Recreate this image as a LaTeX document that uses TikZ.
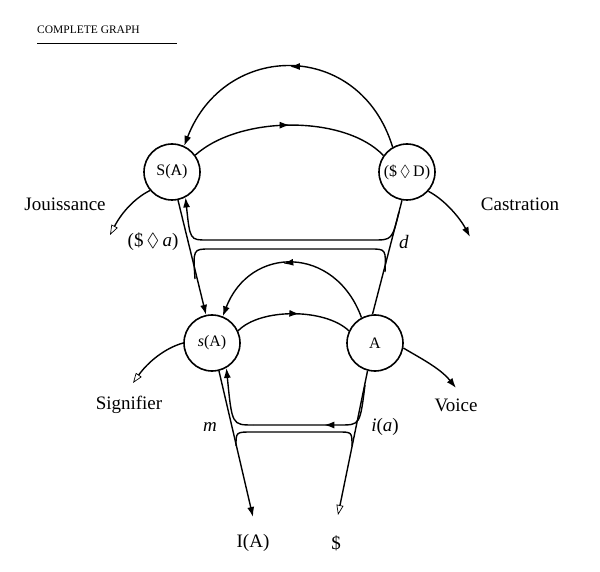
\documentclass[tikz,border=0pt]{standalone}
\usepackage{amssymb}
\usepackage{fontspec}
\setmainfont{Liberation Serif}
\usetikzlibrary{arrows.meta,decorations.markings}
\begin{document}
\begin{tikzpicture}[x=1pt,y=-1pt,
  nd/.style={circle,draw,line width=1.6pt,minimum size=56pt,inner sep=0pt,font=\fontsize{16}{18}\selectfont},
  ln/.style={line width=1.4pt},
  ar/.style={-{Latex[length=10pt,width=7pt]}},
  op/.style={{Triangle[open,length=10pt,width=7pt,line width=0.7pt]}-},
  mid/.style={postaction={decorate},decoration={markings,mark=at position #1 with {\arrow{Latex[length=10pt,width=7pt]}}}},
  lb/.style={font=\fontsize{19}{21}\selectfont}]
\useasboundingbox (0,0) rectangle (600,572);
\node[font=\fontsize{11.5}{13}\selectfont,anchor=west,inner sep=0pt] (title) at (37,30) {COMPLETE GRAPH};
\draw[line width=0.7pt] (37,43) -- (177,43);
\node[nd] (SA) at (172,172) {S(\rlap{\kern1.5pt/}A)};
\node[nd] (SD) at (407,172) {(\$\,$\Diamond$\,D)};
\node[nd] (sA) at (212,343) {\textit{s}(A)};
\node[nd] (A) at (375,343) {A};
\coordinate (Jt) at (110,235);
\coordinate (Ce) at (470,237);
\coordinate (St) at (133,383);
\coordinate (Ve) at (456,388);
\coordinate (Bs) at (338,515);
\coordinate (BI) at (253,517);
\node[lb] (IA) at (253,543) {I(A)};
\node[lb] (Sb) at (336,543) {\$};
\node[lb] (sig) at (129,405) {Signifier};
\node[lb] (voi) at (456,405) {Voice};
\node[lb] (jou) at (65,204) {Jouissance};
\node[lb] (cas) at (520,204) {Castration};
\node[lb] (pa) at (153,242) {(\$\,$\Diamond$\,\textit{a})};
\node[lb] (d) at (404,242) {\textit{d}};
\node[lb] (m) at (210,427) {\textit{m}};
\node[lb] (ia) at (385,427) {\textit{i}(\textit{a})};
% arcs
\draw[ln,ar,mid=0.5] (SD.120) .. controls (360,40) and (225,40) .. (SA.65);
\draw[ln,mid=0.5] (SA.36) .. controls (240,115) and (345,115) .. (SD.145);
\draw[ln,ar,mid=0.55] (A.118) .. controls (335,245) and (250,245) .. (sA.68);
\draw[ln,mid=0.55] (sA.25) .. controls (260,308) and (325,308) .. (A.155);
% verticals
\draw[ln,ar] (SA.-78) -- (sA.102);
\draw[ln,op] (Bs) -- (A.-105);
\draw[ln] (A.95) -- (SD.-100);
\draw[ln,ar] (sA.-76) -- (BI);
% upper bands
\draw[ln,ar] (399,212) .. controls (392,240) .. (373,240) -- (207,240) .. controls (190,240) .. (SA.-62);
\draw[ln] (195,279) .. controls (193,249) .. (210,249) -- (370,249) .. controls (386,249) .. (385,272);
% lower bands
\draw[ln,mid=0.5] (365,385) .. controls (360,425) .. (340,425) -- (253,425);
\draw[ln,ar] (253,425) .. controls (232,425) .. (sA.-60);
\draw[ln] (236,446) .. controls (236,432) .. (252,432) -- (338,432) .. controls (352,432) .. (352,446);
% sides
\draw[ln,op] (Jt) .. controls (122,212) and (135,198) .. (SA.-140);
\draw[ln,ar] (SD.-42) .. controls (445,200) and (460,218) .. (Ce);
\draw[ln,op] (St) .. controls (148,362) and (165,348) .. (sA.180);
\draw[ln,ar] (A.-10) .. controls (420,358) and (440,368) .. (Ve);
\end{tikzpicture}
\end{document}
